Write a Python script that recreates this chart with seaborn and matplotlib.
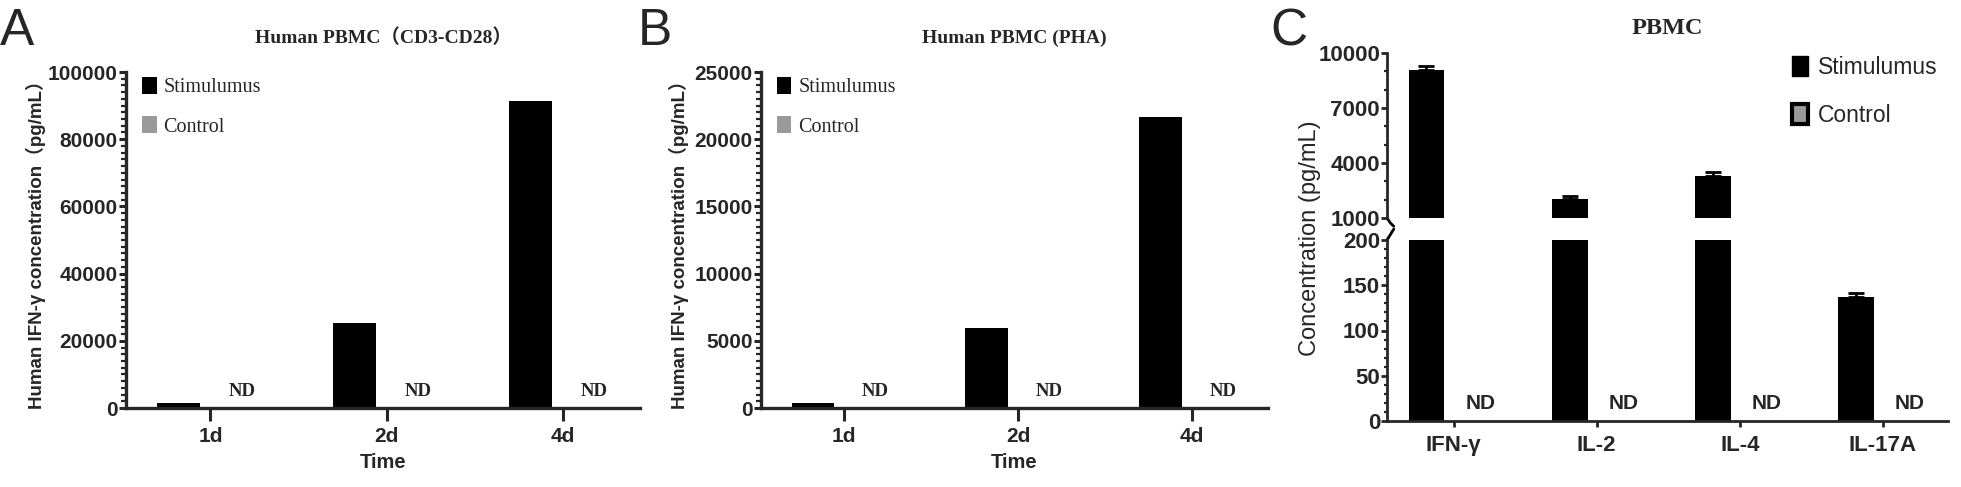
import matplotlib
matplotlib.use("Agg")
import matplotlib.pyplot as plt
import pandas as pd
import seaborn as sns
from matplotlib.patches import Patch
from matplotlib.ticker import MultipleLocator, FixedLocator

# --- data ---
days = ["1d", "2d", "4d"]
groups = ["Stimulumus", "Control"]
cd3_stim = [1500, 25300, 91400]
cd3_ctrl = [0, 0, 0]
pha_stim = [380, 5950, 21650]
pha_ctrl = [0, 0, 0]
cytokines = ["IFN-γ", "IL-2", "IL-4", "IL-17A"]
pbmc_stim = [9090, 2040, 3310, 137]
pbmc_stim_err = [180, 180, 180, 4.5]
pbmc_ctrl = [0, 0, 0, 0]

sns.set_theme(style="ticks")
plt.rcParams["font.family"] = ["Liberation Sans", "Noto Sans CJK SC"]
SANS = ["Liberation Sans", "Noto Sans CJK SC"]
SERIF = ["Liberation Serif", "Noto Sans CJK SC"]
GREY = "#9a9a9a"
palette = {"Stimulumus": "black", "Control": GREY}


def long_df(cats, stim, ctrl):
    return pd.DataFrame({
        "cat": cats * 2,
        "group": [groups[0]] * len(cats) + [groups[1]] * len(cats),
        "value": list(stim) + list(ctrl),
    })


W, H = 1961, 487
fig = plt.figure(figsize=(W / 100, H / 100), dpi=100)


def box(x0, x1, ytop, ybot):
    return [x0 / W, 1 - ybot / H, (x1 - x0) / W, (ybot - ytop) / H]


def time_panel(rect, df, ymax, major, minor, title, ylab_x):
    ax = fig.add_axes(rect)
    sns.barplot(data=df, x="cat", y="value", hue="group", palette=palette,
                width=0.72, gap=0.32, errorbar=None, linewidth=0,
                legend=False, ax=ax)
    ax.set_ylim(0, ymax)
    ax.set_xlim(-0.48, 2.44)
    ax.yaxis.set_major_locator(MultipleLocator(major))
    ax.yaxis.set_minor_locator(MultipleLocator(minor))
    sns.despine(ax=ax)
    for s in ["left", "bottom"]:
        ax.spines[s].set_linewidth(2.4)
    ax.tick_params(axis="y", which="major", length=5, width=2.2, pad=1,
                   labelsize=15)
    ax.tick_params(axis="y", which="minor", length=3.5, width=1.6)
    ax.tick_params(axis="x", length=9.5, width=2.2, pad=4, labelsize=15)
    for lab in ax.get_xticklabels() + ax.get_yticklabels():
        lab.set_fontweight("bold")
    ax.set_xlabel("Time", fontsize=14.5, fontweight="bold", labelpad=5)
    ax.set_ylabel("Human IFN-γ concentration（pg/mL）", fontsize=13.5,
                  fontweight="bold", family=SANS)
    ax.yaxis.set_label_coords(ylab_x, 0.5)
    ax.set_title(title, fontsize=14, fontweight="bold", family=SERIF, pad=21)
    # ND labels above the control bars
    for bar in ax.containers[1]:
        ax.annotate("ND", (bar.get_x() + bar.get_width() / 2, 0),
                    xytext=(0, 6), textcoords="offset points", ha="center",
                    va="bottom", fontsize=13.5, fontweight="bold",
                    family=SERIF)
    handles = [Patch(facecolor="black", edgecolor="none"),
               Patch(facecolor=GREY, edgecolor="none")]
    ax.legend(handles, groups, loc="upper left", bbox_to_anchor=(0.032, 0.985),
              frameon=False, prop={"family": "Liberation Serif", "size": 14.5},
              handlelength=0.7, handleheight=0.9, handletextpad=0.35,
              labelspacing=0.95, borderpad=0, borderaxespad=0)
    return ax


time_panel(box(126, 640, 72, 408), long_df(days, cd3_stim, cd3_ctrl),
           100000, 20000, 2000, "Human PBMC（CD3-CD28）", -0.156)
time_panel(box(761, 1268, 72, 408), long_df(days, pha_stim, pha_ctrl),
           25000, 5000, 500, "Human PBMC (PHA)", -0.142)

# --- panel C: broken y axis ---
dfc = long_df(cytokines, pbmc_stim, pbmc_ctrl)
ax_hi = fig.add_axes(box(1387, 1948, 53, 218))
ax_lo = fig.add_axes(box(1387, 1948, 240, 421))
for ax in (ax_hi, ax_lo):
    sns.barplot(data=dfc, x="cat", y="value", hue="group", palette=palette,
                width=0.76, gap=0.34, errorbar=None, linewidth=0,
                legend=False, ax=ax)
    xs = [b.get_x() + b.get_width() / 2 for b in ax.containers[0]]
    ax.errorbar(xs, pbmc_stim, yerr=[[0] * len(xs), pbmc_stim_err], fmt="none",
                ecolor="black", elinewidth=2, capsize=6, capthick=2)
    ax.set_xlim(-0.466, 3.455)
    sns.despine(ax=ax)
    ax.spines["left"].set_linewidth(2)
    ax.tick_params(axis="y", which="major", length=4, width=2, pad=1,
                   labelsize=16)
    ax.tick_params(axis="y", which="minor", length=2.5, width=1.6)
    for lab in ax.get_yticklabels():
        lab.set_fontweight("bold")
    ax.set_xlabel("")
    ax.set_ylabel("")

ax_hi.set_ylim(1000, 10000)
ax_hi.yaxis.set_major_locator(FixedLocator([1000, 4000, 7000, 10000]))
ax_hi.yaxis.set_minor_locator(MultipleLocator(1000))
ax_hi.spines["bottom"].set_visible(False)
ax_hi.tick_params(axis="x", bottom=False, labelbottom=False)
for lab in ax_hi.get_yticklabels():
    lab.set_fontweight("bold")

ax_lo.set_ylim(0, 200)
ax_lo.yaxis.set_major_locator(MultipleLocator(50))
ax_lo.yaxis.set_minor_locator(MultipleLocator(10))
ax_lo.spines["bottom"].set_linewidth(2)
ax_lo.tick_params(axis="x", length=4, width=2, pad=6, labelsize=16)
for lab in ax_lo.get_xticklabels() + ax_lo.get_yticklabels():
    lab.set_fontweight("bold")
for bar in ax_lo.containers[1]:
    ax_lo.annotate("ND", (bar.get_x() + bar.get_width() / 2, 0),
                   xytext=(0, 6), textcoords="offset points", ha="center",
                   va="bottom", fontsize=15, fontweight="bold")

# break marks on the y axis
ax_hi.plot([0, 0.006, 0.012], [0, -0.03, -0.05], transform=ax_hi.transAxes,
           color="black", lw=2, clip_on=False)
ax_lo.plot([0, 0.006, 0.012], [1.0, 1.03, 1.06], transform=ax_lo.transAxes,
           color="black", lw=2, clip_on=False)

ax_hi.set_title("PBMC", fontsize=17.5, fontweight="bold", family=SERIF, pad=14)
handles_c = [Patch(facecolor="black", edgecolor="black"),
             Patch(facecolor=GREY, edgecolor="black", linewidth=3)]
ax_hi.legend(handles_c, groups, loc="upper left",
             bbox_to_anchor=(1792 / W, 1 - 56 / H),
             bbox_transform=fig.transFigure, frameon=False, fontsize=16.5,
             handlelength=0.7, handleheight=0.95, handletextpad=0.45,
             labelspacing=1.1, borderpad=0, borderaxespad=0)
fig.text(1310 / W, 1 - 238 / H, "Concentration (pg/mL)", rotation=90,
         ha="center", va="center", fontsize=17)

# panel letters
for letter, x in [("A", 0), ("B", 638), ("C", 1270)]:
    fig.text(x / W, 1 - 45 / H, letter, fontsize=37, va="baseline")

fig.savefig("out.png", dpi=100)
